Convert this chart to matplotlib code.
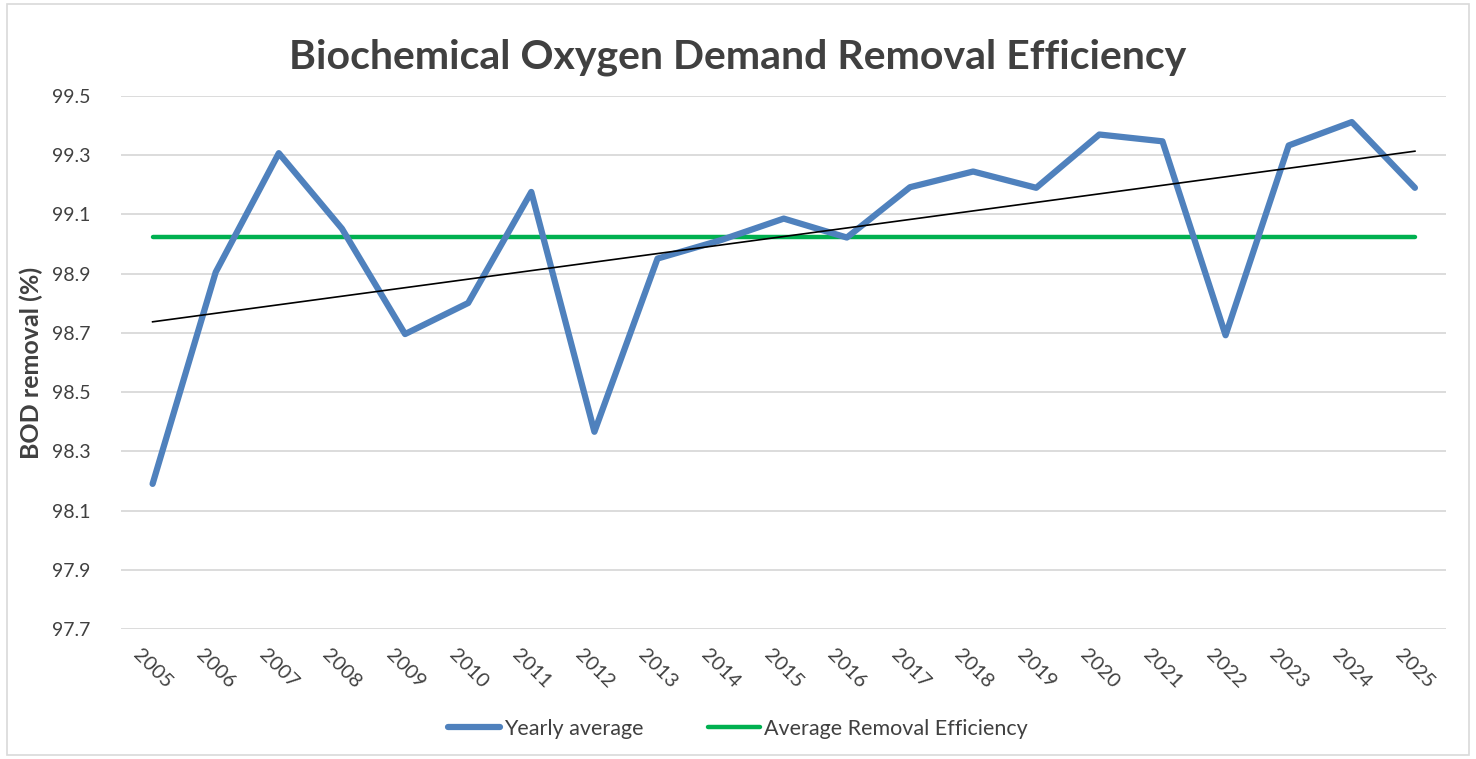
import matplotlib
matplotlib.use('Agg')
import matplotlib.pyplot as plt
import numpy as np

plt.rcParams['font.family'] = ['Lato', 'DejaVu Sans']

# data
years = [2005, 2006, 2007, 2008, 2009, 2010, 2011, 2012, 2013, 2014, 2015,
         2016, 2017, 2018, 2019, 2020, 2021, 2022, 2023, 2024, 2025]
bod_removal = [98.19, 98.905, 99.307, 99.052, 98.696, 98.801, 99.176, 98.366,
               98.951, 99.013, 99.086, 99.022, 99.192, 99.245, 99.190, 99.370,
               99.347, 98.692, 99.333, 99.412, 99.190]
y_ticks = [97.7, 97.9, 98.1, 98.3, 98.5, 98.7, 98.9, 99.1, 99.3, 99.5]

title = 'Biochemical Oxygen Demand Removal Efficiency'
ylabel = 'BOD removal (%)'

x = np.arange(len(years))
avg = np.mean(bod_removal)
slope, icpt = np.polyfit(x, bod_removal, 1)
trend = slope * x + icpt

fig = plt.figure(figsize=(14.76, 7.59), dpi=100)
ax = fig.add_axes([0.082, 0.1713, 0.898, 0.7022])

# chart border
fig.patches.append(plt.Rectangle((0.005, 0.005), 0.99, 0.99, transform=fig.transFigure,
                                 fill=False, edgecolor='#D9D9D9', linewidth=1.2))

ax.plot(x, bod_removal, color='#4F81BD', linewidth=4.5, solid_joinstyle='round',
        solid_capstyle='round', label='Yearly average', zorder=3)
ax.plot(x, [avg] * len(x), color='#00B050', linewidth=3.2, solid_capstyle='round',
        label='Average Removal Efficiency', zorder=2)
ax.plot(x, trend, color='black', linewidth=1.2, zorder=4, label='_trend')

ax.set_xlim(-0.5, len(years) - 0.5)
ax.set_ylim(97.7, 99.5)
ax.set_yticks(y_ticks)
ax.set_yticklabels([f'{t:.1f}' for t in y_ticks], fontsize=14, color='#404040')
ax.set_xticks(x)
ax.set_xticklabels([str(y) for y in years], rotation=-45, ha='center', va='top',
                   fontsize=14.5, color='#404040')
ax.tick_params(axis='both', length=0, pad=12)
ax.tick_params(axis='y', pad=22)
ax.grid(axis='y', color='#D9D9D9', linewidth=1.3)
ax.set_axisbelow(True)
for s in ax.spines.values():
    s.set_visible(False)

ax.set_ylabel(ylabel, fontsize=18, fontweight='bold', color='#404040', labelpad=6)
fig.text(0.5, 0.925, title, ha='center', va='center', fontsize=29.5,
         fontweight='bold', color='#404040')

leg = fig.legend(loc='center', bbox_to_anchor=(0.5, 0.04), ncol=2, frameon=False,
                 fontsize=15.5, handlelength=2.4, handletextpad=0.2, columnspacing=3.0)
for t in leg.get_texts():
    t.set_color('#404040')

fig.savefig('out.png', dpi=100)
